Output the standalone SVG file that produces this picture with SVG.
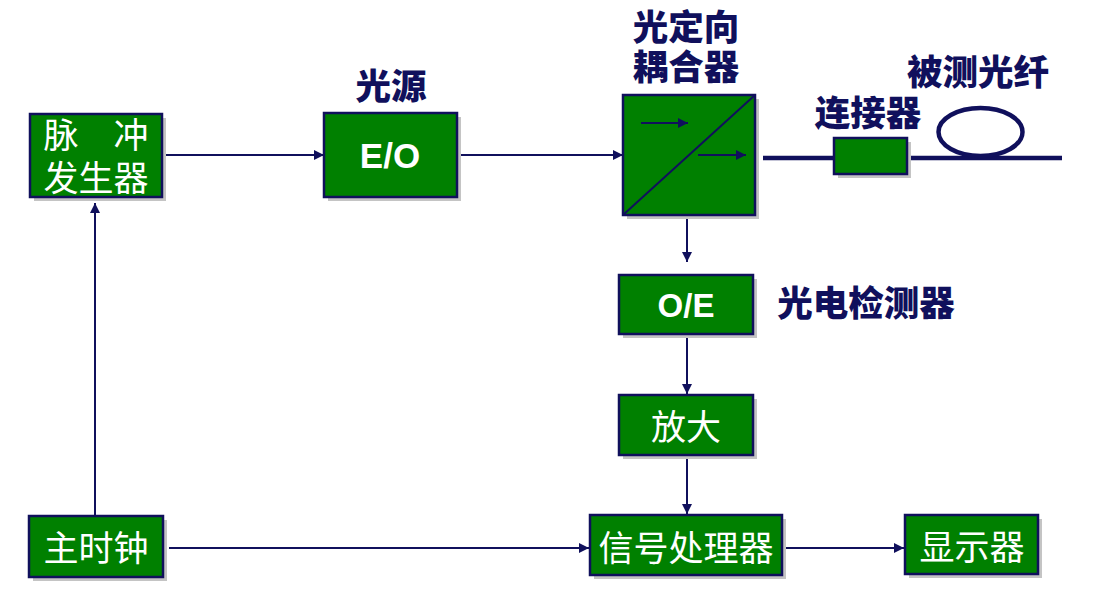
<svg xmlns="http://www.w3.org/2000/svg" width="1094" height="609" viewBox="0 0 1094 609">
<style>
.sh{fill:#c4c4c4}
.bx{fill:#008000;stroke:#10105c;stroke-width:2.5}
.ln{stroke:#10105c;stroke-width:2;fill:none}
.wt{fill:#ffffff;font-family:"Noto Sans CJK SC",sans-serif;font-size:35px;text-anchor:middle}
.we{fill:#ffffff;font-family:"Liberation Sans",Arial,sans-serif;font-weight:bold;font-size:35px;text-anchor:middle}
.lb{fill:#10105c;font-family:"Noto Sans CJK SC",sans-serif;font-weight:900;font-size:35.5px;text-anchor:middle}
</style>
<defs>
<marker id="ar" viewBox="0 0 10 10" refX="10" refY="5" markerWidth="12" markerHeight="10" markerUnits="userSpaceOnUse" orient="auto">
<path d="M0,0 L10,5 L0,10 z" fill="#10105c"/>
</marker>
</defs>
<rect width="1094" height="609" fill="#ffffff"/>
<g id="connectors">
<line class="ln" x1="162" y1="155" x2="324" y2="155" marker-end="url(#ar)"/>
<line class="ln" x1="457" y1="155" x2="623" y2="155" marker-end="url(#ar)"/>
<polyline class="ln" points="737,191 687,191 687,262" marker-end="url(#ar)"/>
<line class="ln" x1="687" y1="334" x2="687" y2="394" marker-end="url(#ar)"/>
<line class="ln" x1="687" y1="455" x2="687" y2="514" marker-end="url(#ar)"/>
<line class="ln" x1="169" y1="548" x2="589" y2="548" marker-end="url(#ar)"/>
<line class="ln" x1="782" y1="548" x2="904" y2="548" marker-end="url(#ar)"/>
<line class="ln" x1="95" y1="516" x2="95" y2="203" marker-end="url(#ar)"/>
</g>
<g id="pulse-generator">
<rect class="sh" x="34" y="118" width="132" height="83"/>
<rect class="bx" x="30" y="114" width="132" height="83"/>
<text class="wt" x="96" y="148">脉　冲<tspan x="96" y="191">发生器</tspan></text>
</g>
<g id="eo">
<rect class="sh" x="328" y="117" width="133" height="84"/>
<rect class="bx" x="324" y="113" width="133" height="84"/>
<text class="we" x="390" y="168">E/O</text>
<text class="lb" x="391" y="99">光源</text>
</g>
<g id="coupler">
<rect class="sh" x="627" y="99" width="132" height="120"/>
<rect class="bx" x="623" y="95" width="132" height="120"/>
<line class="ln" x1="623" y1="215" x2="755" y2="95"/>
<line class="ln" x1="641" y1="123" x2="688" y2="123" marker-end="url(#ar)"/>
<line class="ln" x1="698" y1="155" x2="746" y2="155" marker-end="url(#ar)"/>
<text class="lb" x="686" y="40">光定向<tspan x="686" y="80">耦合器</tspan></text>
</g>
<g id="fiber">
<line stroke="#10105c" stroke-width="4.5" x1="763" y1="158" x2="1062" y2="158"/>
<ellipse cx="980.5" cy="132" rx="42" ry="24" fill="#ffffff" stroke="#10105c" stroke-width="4.5"/>
<text class="lb" x="978" y="85">被测光纤</text>
</g>
<g id="connector">
<rect class="sh" x="838" y="142" width="73" height="36"/>
<rect class="bx" x="834" y="138" width="73" height="36"/>
<text class="lb" x="868" y="126">连接器</text>
</g>
<g id="oe">
<rect class="sh" x="623" y="279" width="134" height="59"/>
<rect class="bx" x="619" y="275" width="134" height="59"/>
<text class="we" x="686" y="317" style="font-size:33px">O/E</text>
<text class="lb" x="866" y="316">光电检测器</text>
</g>
<g id="amplifier">
<rect class="sh" x="623" y="399" width="134" height="60"/>
<rect class="bx" x="619" y="395" width="134" height="60"/>
<text class="wt" x="686" y="440">放大</text>
</g>
<g id="master-clock">
<rect class="sh" x="33" y="520" width="134" height="61"/>
<rect class="bx" x="29" y="516" width="134" height="61"/>
<text class="wt" x="96" y="561">主时钟</text>
</g>
<g id="signal-processor">
<rect class="sh" x="594" y="519" width="192" height="60"/>
<rect class="bx" x="590" y="515" width="192" height="60"/>
<text class="wt" x="686" y="561">信号处理器</text>
</g>
<g id="display">
<rect class="sh" x="909" y="519" width="133" height="59"/>
<rect class="bx" x="905" y="515" width="133" height="59"/>
<text class="wt" x="972" y="560">显示器</text>
</g>
</svg>
